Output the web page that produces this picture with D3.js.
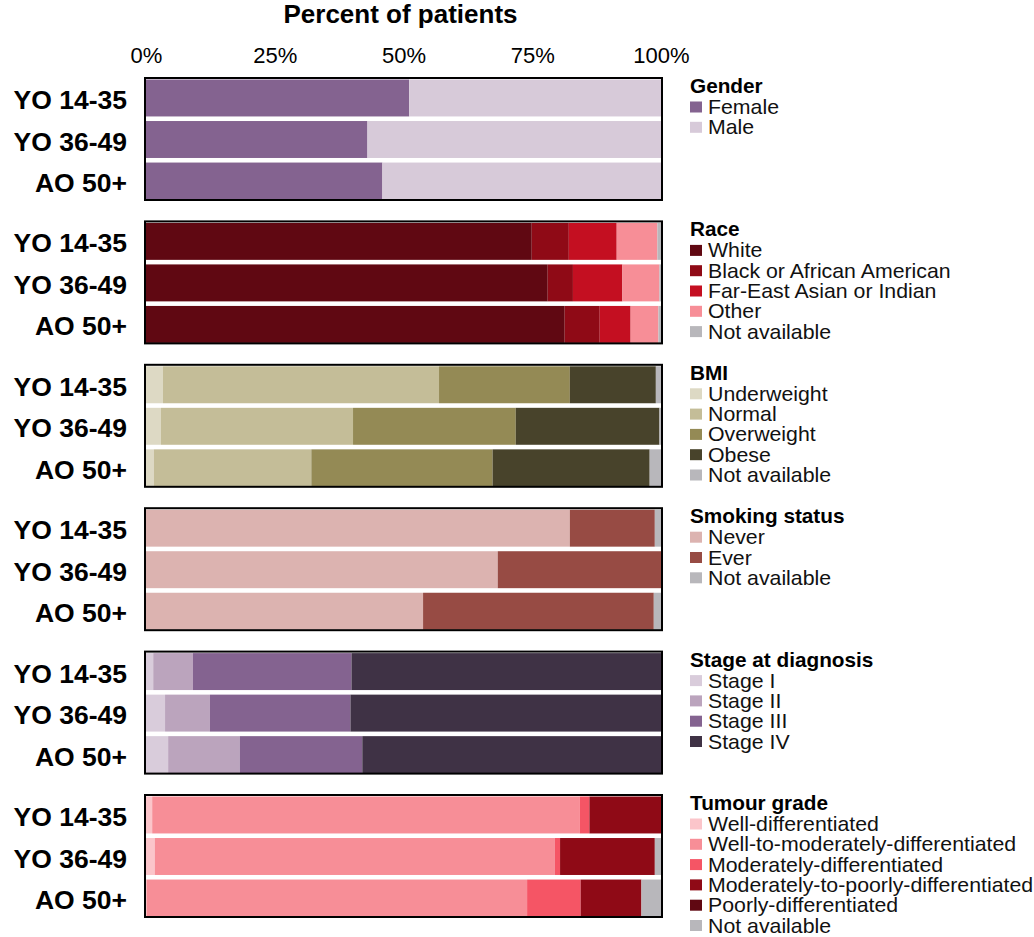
<!DOCTYPE html>
<html>
<head>
<meta charset="utf-8">
<script src="https://cdn.jsdelivr.net/npm/d3@7"></script>
<style>
  html, body { margin: 0; padding: 0; background: #fff; }
  svg { display: block; font-family: "Liberation Sans", Arial, Helvetica, sans-serif; }
</style>
</head>
<body>
<svg id="chart" width="1034" height="937"></svg>
<script>
// ---------- data (percent of patients) ----------
const groups = ["YO 14-35", "YO 36-49", "AO 50+"];
const tickValues = [0, 25, 50, 75, 100];
const axisTitle = "Percent of patients";

const genderTitle = "Gender";
const genderCats = ["Female", "Male"];
const genderColors = ["#846390", "#d7cad9"];
const genderVals = [
  [51.1, 48.9],
  [43.0, 57.0],
  [45.9, 54.1]
];

const raceTitle = "Race";
const raceCats = ["White", "Black or African American", "Far-East Asian or Indian", "Other", "Not available"];
const raceColors = ["#600812", "#8f0a16", "#c40f21", "#f78e97", "#b8b7bb"];
const raceVals = [
  [74.9, 7.2, 9.3, 7.9, 0.7],
  [78.0, 4.9, 9.6, 7.2, 0.3],
  [81.3, 6.8, 6.0, 5.4, 0.5]
];

const bmiTitle = "BMI";
const bmiCats = ["Underweight", "Normal", "Overweight", "Obese", "Not available"];
const bmiColors = ["#ddd9c4", "#c4bd98", "#948a55", "#48432b", "#b8b7bb"];
const bmiVals = [
  [3.3, 53.6, 25.4, 16.7, 1.0],
  [2.9, 37.3, 31.6, 27.9, 0.3],
  [1.5, 30.6, 35.2, 30.5, 2.2]
];

const smokeTitle = "Smoking status";
const smokeCats = ["Never", "Ever", "Not available"];
const smokeColors = ["#dcb3b0", "#974b44", "#b8b7bb"];
const smokeVals = [
  [82.3, 16.5, 1.2],
  [68.3, 31.7, 0.0],
  [53.8, 44.8, 1.4]
];

const stageTitle = "Stage at diagnosis";
const stageCats = ["Stage I", "Stage II", "Stage III", "Stage IV"];
const stageColors = ["#d9ccdb", "#bba4bd", "#846390", "#3f3245"];
const stageVals = [
  [1.4, 7.7, 30.8, 60.1],
  [3.7, 8.7, 27.3, 60.3],
  [4.3, 13.9, 23.8, 58.0]
];

const gradeTitle = "Tumour grade";
const gradeCats = ["Well-differentiated", "Well-to-moderately-differentiated", "Moderately-differentiated",
  "Moderately-to-poorly-differentiated", "Poorly-differentiated", "Not available"];
const gradeColors = ["#fbc5ca", "#f78e97", "#f55565", "#8f0a16", "#600812", "#b8b7bb"];
const gradeVals = [
  [1.2, 83.0, 1.9, 13.9, 0.0, 0.0],
  [1.7, 77.7, 1.0, 18.4, 0.0, 1.2],
  [0.1, 73.9, 10.4, 11.8, 0.0, 3.8]
];

// ---------- build ----------
const panels = [
  { title: genderTitle, cats: genderCats, colors: genderColors, vals: genderVals },
  { title: raceTitle, cats: raceCats, colors: raceColors, vals: raceVals },
  { title: bmiTitle, cats: bmiCats, colors: bmiColors, vals: bmiVals },
  { title: smokeTitle, cats: smokeCats, colors: smokeColors, vals: smokeVals },
  { title: stageTitle, cats: stageCats, colors: stageColors, vals: stageVals },
  { title: gradeTitle, cats: gradeCats, colors: gradeColors, vals: gradeVals }
];

const svg = d3.select("#chart");
const x = d3.scaleLinear().domain([0, 100]).range([146, 661]);

const firstTop = 77, panelStep = 143.4, panelH = 124;
const panelPos = d3.scaleLinear().domain([0, 1]).range([firstTop, firstTop + panelStep]);
const legendStretch = 1.065;

// axis title
svg.append("text")
  .attr("x", (x(0) + x(100)) / 2 - 3)
  .attr("y", 23)
  .attr("text-anchor", "middle")
  .attr("font-size", 26)
  .attr("font-weight", "bold")
  .attr("fill", "#000")
  .text(axisTitle);

// top axis
const axisG = svg.append("g")
  .attr("transform", "translate(0,63)")
  .call(d3.axisTop(x).tickValues(tickValues).tickSize(0).tickPadding(0).tickFormat(d => d + "%"));
axisG.select(".domain").remove();
axisG.selectAll("text")
  .attr("font-size", 22)
  .attr("font-family", "Liberation Sans, Arial, sans-serif")
  .attr("fill", "#000")
  .attr("dy", 0);

panels.forEach((p, i) => {
  const top = panelPos(i);
  const g = svg.append("g");
  const y = d3.scaleBand().domain(groups).range([top + 2.5, top + panelH - 1.5]).paddingInner(0.11).paddingOuter(0);

  groups.forEach((grp, gi) => {
    const stacked = d3.cumsum(p.vals[gi]);
    const starts = [0, ...stacked.slice(0, -1)];
    g.selectAll(null)
      .data(p.vals[gi].map((v, k) => ({ v, k, s: starts[k], e: stacked[k] })).filter(d => d.v > 0))
      .enter().append("rect")
      .attr("x", d => x(d.s))
      .attr("width", d => Math.max(0, x(Math.min(d.e, 100)) - x(d.s)))
      .attr("y", y(grp))
      .attr("height", y.bandwidth())
      .attr("fill", d => p.colors[d.k]);

    svg.append("text")
      .attr("x", 127)
      .attr("y", y(grp) + y.bandwidth() / 2 + 1.5)
      .attr("dy", "0.36em")
      .attr("text-anchor", "end")
      .attr("font-size", 26.5)
      .attr("font-weight", "bold")
      .attr("fill", "#000")
      .text(grp);
  });

  // panel border
  g.append("rect")
    .attr("x", x(0) - 1)
    .attr("y", top + 1)
    .attr("width", x(100) - x(0) + 2)
    .attr("height", panelH - 2)
    .attr("fill", "none")
    .attr("stroke", "#000")
    .attr("stroke-width", 2);

  // legend
  const lg = svg.append("g").attr("transform", `translate(690,${top})`);
  lg.append("text")
    .attr("transform", `translate(0,16) scale(${legendStretch},1)`)
    .attr("font-size", 19.5).attr("font-weight", "bold").attr("fill", "#000")
    .text(p.title);
  const items = lg.selectAll("g.item").data(p.cats).enter().append("g")
    .attr("transform", (d, k) => `translate(0,${37 + k * 20.3})`);
  items.append("rect")
    .attr("x", 0).attr("y", -12.5).attr("width", 12).attr("height", 11)
    .attr("fill", (d, k) => p.colors[k]);
  items.append("text")
    .attr("transform", `translate(18,0) scale(${legendStretch},1)`)
    .attr("font-size", 20).attr("fill", "#111")
    .text(d => d);
});
</script>
</body>
</html>
